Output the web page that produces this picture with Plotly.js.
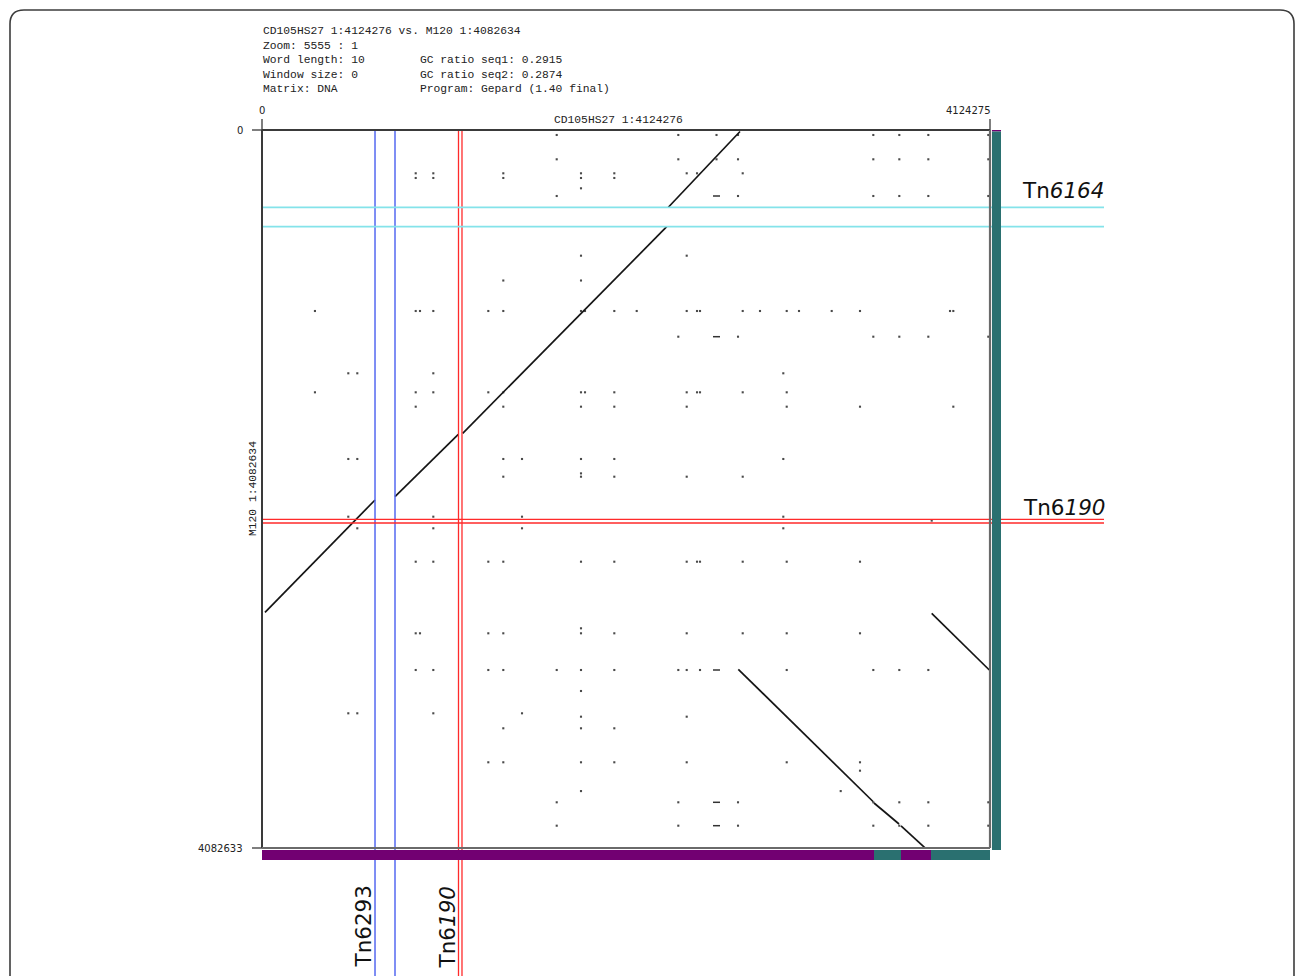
<!DOCTYPE html>
<html>
<head>
<meta charset="utf-8">
<script src="https://cdn.plot.ly/plotly-3.0.1.min.js"></script>
<style>
html,body{margin:0;padding:0;background:#fff;}
#chart{width:1296px;height:976px;}
</style>
</head>
<body>
<div id="chart"></div>
<script>
// ---------------- DATA ----------------
const seqXTitle = 'CD105HS27 1:4124276';
const seqYTitle = 'M120 1:4082634';
const xLen = 4124275;
const yLen = 4082633;
const xTickText = ['0', '4124275'];
const yTickText = ['0', '4082633'];

const headerLeft = ['CD105HS27 1:4124276 vs. M120 1:4082634', 'Zoom: 5555 : 1', 'Word length: 10', 'Window size: 0', 'Matrix: DNA'];
const headerRight = ['', '', 'GC ratio seq1: 0.2915', 'GC ratio seq2: 0.2874', 'Program: Gepard (1.40 final)'];

// long match segments (bp)
const segX0 = [17000, 753500, 1137000, 2302000, 3794000, 2698400, 3467200, 3620100];
const segY0 = [2742400, 2085100, 1724600, 439500, 2748100, 3066500, 3826700, 3957500];
const segX1 = [640200, 1112100, 2292800, 2708000, 4120400, 3461500, 3608800, 3756100];
const segY1 = [2103900, 1730300, 549800, 8500, 3070500, 3818200, 3946100, 4082000];

// short repeat hits, grouped by row (bp)
const dotRowY = [28400, 166600, 246200, 272900, 331500, 375300, 714700, 855800, 1029200, 1175300,
  1383400, 1491500, 1573300, 1870700, 1952500, 1971400, 2198800, 2221000, 2264800, 2454700,
  2833400, 2861800, 3070500, 3189900, 3316700, 3336000, 3402000, 3595300, 3643000, 3759000,
  3822800, 3955800];
const dotRowX = [
  [1669600, 2358500, 2574900, 2696700, 3463200, 3610500, 3774900, 4114700],
  [1669600, 2358500, 2574900, 2696700, 3463200, 3610500, 3774900, 4114700],
  [870800, 970500, 1367000, 1807200, 1995900, 2406000, 2464400, 2723300],
  [870800, 970500, 1367000, 1807200, 1995900],
  [1807200],
  [1669600, 2696700, 3463200, 3610500, 3774900, 4114700],
  [1807200, 2406000],
  [1367000, 1807200],
  [300000, 870800, 895100, 970500, 1282100, 1367000, 1807200, 1829900, 1995900, 2122800, 2406000, 2464400, 2481400, 2723300, 2821300, 2972600, 3042200, 3227500, 3387800, 3897700, 3916500],
  [2358500, 2696700, 3463200, 3610500, 3774900, 4114700],
  [488900, 539900, 970500, 2953300],
  [300000, 870800, 970500, 1282100, 1367000, 1807200, 1829900, 1995900, 2406000, 2464400, 2481400, 2723300, 2972600],
  [870800, 1367000, 1807200, 1995900, 2406000, 2972600, 3387800, 3916500],
  [488900, 539900, 1367000, 1473000, 1807200, 1995900, 2953300],
  [1807200],
  [1367000, 1807200, 1995900, 2406000, 2723300],
  [488900, 970500, 1473000, 2953300],
  [3794000],
  [539900, 970500, 1473000, 2953300],
  [870800, 970500, 1282100, 1367000, 1807200, 1995900, 2406000, 2464400, 2481400, 2723300, 2972600, 3387800],
  [1807200],
  [870800, 895100, 1282100, 1367000, 1807200, 1995900, 2406000, 2723300, 2972600, 3387800],
  [870800, 970500, 1282100, 1367000, 1669600, 1807200, 1995900, 2358500, 2406000, 2481400, 2972600, 3463200, 3610500, 3774900],
  [1807200],
  [488900, 539900, 970500, 1473000],
  [1807200, 2406000],
  [1367000, 1807200, 1995900],
  [1282100, 1367000, 1807200, 1995900, 2406000, 2972600, 3387800],
  [3387800],
  [1807200, 3278500],
  [1669600, 2358500, 2696700, 3463200, 3610500, 3774900, 4114700],
  [1669600, 2358500, 2696700, 3463200, 3610500, 3774900, 4114700]
];
const dashX = [2574900, 2574900, 2574900, 2574900, 2574900];
const dashY = [375300, 1175300, 3070500, 3822800, 3955800];

// transposon boundaries (bp)
const tn6293X = [640200, 753500];
const tn6190X = [1113200, 1133000];
const tn6164Y = [439500, 549800];
const tn6190Y = [2214300, 2234600];

// orientation bars
const bottomBarBreaks = [0, 3467200, 3620100, 3790100, 4124275];
const bottomBarColors = ['#720072', '#2a7070', '#720072', '#2a7070'];
const rightBarBreaks = [0, 8500, 4082633];
const rightBarColors = ['#720072', '#2a7070'];

// ---------------- LAYOUT GEOMETRY ----------------
const W = 1296, H = 976, FL = 262, FR = 990, FT = 130, FB = 848;
const SX = xLen / (FR - FL), SY = yLen / (FB - FT);
const dx = p => p * SX, dy = p => p * SY;
const px = p => p / W, py = p => 1 - p / H;

// ---------------- TRACES ----------------
const lx = [], ly = [];
for (let i = 0; i < segX0.length; i++) {
  lx.push(segX0[i], segX1[i], null);
  ly.push(segY0[i], segY1[i], null);
}
const dX = [], dY = [];
dotRowY.forEach((y, i) => dotRowX[i].forEach(x => { dX.push(x); dY.push(y); }));

const traces = [
  {x: dX, y: dY, type: 'scatter', mode: 'markers', hoverinfo: 'skip',
   marker: {symbol: 'square', size: 2.1, color: '#4a4a4a', line: {width: 0}}},
  {x: dashX, y: dashY, type: 'scatter', mode: 'markers', hoverinfo: 'skip',
   marker: {symbol: 'line-ew', size: 5, line: {width: 1.5, color: '#333'}}},
  {x: lx, y: ly, type: 'scatter', mode: 'lines', hoverinfo: 'skip',
   line: {color: '#151515', width: 1.7}}
];

// ---------------- SHAPES ----------------
const shapes = [];
const L = (x0, y0, x1, y1, color, width) => shapes.push({type: 'line', xref: 'x', yref: 'y', x0, y0, x1, y1, line: {color, width}});
// transposon markers
tn6293X.forEach(v => L(v, 0, v, dy(H - FT), '#5468f0', 1.5));
tn6190X.forEach(v => L(v, 0, v, dy(H - FT), '#ff2a2a', 1.3));
tn6164Y.forEach(v => L(0, v, dx(1104 - FL), v, '#84e3ea', 1.8));
tn6190Y.forEach(v => L(0, v, dx(1104 - FL), v, '#ff2a2a', 1.3));
// frame
L(0, 0, xLen, 0, '#3a3a3a', 2);
L(0, 0, 0, yLen, '#3a3a3a', 2);
L(xLen, 0, xLen, yLen, '#6a6a6a', 2.2);
L(0, yLen, xLen, yLen, '#6a6a6a', 2.2);
// ticks
L(0, 0, 0, -dy(11), '#3a3a3a', 1.3);
L(xLen, 0, xLen, -dy(11), '#3a3a3a', 1.3);
L(0, 0, -dx(10), 0, '#3a3a3a', 1.3);
L(0, yLen, -dx(10), yLen, '#3a3a3a', 1.3);
// bars
for (let i = 0; i < bottomBarColors.length; i++) {
  shapes.push({type: 'rect', xref: 'x', yref: 'y', x0: bottomBarBreaks[i], x1: bottomBarBreaks[i + 1],
    y0: yLen + dy(2), y1: yLen + dy(12), fillcolor: bottomBarColors[i], line: {width: 0}});
}
for (let i = 0; i < rightBarColors.length; i++) {
  shapes.push({type: 'rect', xref: 'x', yref: 'y', x0: xLen + dx(2), x1: xLen + dx(11),
    y0: rightBarBreaks[i], y1: rightBarBreaks[i + 1] + (i === rightBarColors.length - 1 ? dy(2) : 0),
    fillcolor: rightBarColors[i], line: {width: 0}});
}
// outer rounded border
const r = 14, bl = 10, bt = 10, br = 1294, bb = 1000;
shapes.push({type: 'path', xref: 'paper', yref: 'paper', layer: 'above',
  path: `M ${px(bl)} ${py(bb)} L ${px(bl)} ${py(bt + r)} Q ${px(bl)} ${py(bt)} ${px(bl + r)} ${py(bt)} ` +
        `L ${px(br - r)} ${py(bt)} Q ${px(br)} ${py(bt)} ${px(br)} ${py(bt + r)} L ${px(br)} ${py(bb)}`,
  line: {color: '#3c3c3c', width: 1.6}, fillcolor: 'rgba(0,0,0,0)'});

// ---------------- ANNOTATIONS ----------------
const mono = {family: 'Liberation Mono, DejaVu Sans Mono, monospace', size: 11.3, color: '#222'};
const sans = {family: 'DejaVu Sans, Verdana, sans-serif', size: 10, color: '#222'};
const big = {family: 'DejaVu Sans, Verdana, sans-serif', size: 21.5, color: '#111'};
const ann = [];
const A = o => ann.push(Object.assign({showarrow: false, xref: 'paper', yref: 'paper'}, o));
const headerY = [31, 45.5, 60, 74.5, 89];
headerLeft.forEach((t, i) => A({text: t, x: px(FL - 1), y: py(headerY[i]), xanchor: 'left', yanchor: 'middle', font: mono}));
headerRight.forEach((t, i) => { if (t) A({text: t, x: px(418), y: py(headerY[i]), xanchor: 'left', yanchor: 'middle', font: mono}); });
A({text: xTickText[0], x: px(FL), y: py(110), xanchor: 'center', yanchor: 'middle', font: sans});
A({text: xTickText[1], x: px(993), y: py(110), xanchor: 'right', yanchor: 'middle', font: sans});
A({text: yTickText[0], x: px(245), y: py(FT), xanchor: 'right', yanchor: 'middle', font: sans});
A({text: yTickText[1], x: px(245), y: py(FB), xanchor: 'right', yanchor: 'middle', font: sans});
A({text: seqXTitle, x: px(618), y: py(120), xanchor: 'center', yanchor: 'middle', font: mono});
A({text: seqYTitle, x: px(253), y: py(489), xanchor: 'center', yanchor: 'middle', textangle: -90, font: mono});
A({text: 'Tn<i>6164</i>', x: px(1063), y: py(190), xanchor: 'center', yanchor: 'middle', font: big});
A({text: 'Tn6<i>190</i>', x: px(1064), y: py(507), xanchor: 'center', yanchor: 'middle', font: big});
A({text: 'Tn6293', x: px(362.5), y: py(927), xanchor: 'center', yanchor: 'middle', textangle: -90, font: big});
A({text: 'Tn6<i>190</i>', x: px(446.5), y: py(927), xanchor: 'center', yanchor: 'middle', textangle: -90, font: big});

const layout = {
  width: W, height: H,
  margin: {l: 0, r: 0, t: 0, b: 0, pad: 0},
  paper_bgcolor: '#fff', plot_bgcolor: '#fff',
  showlegend: false,
  xaxis: {range: [-dx(FL), dx(W - FL)], visible: false, fixedrange: true},
  yaxis: {range: [dy(H - FT), -dy(FT)], visible: false, fixedrange: true},
  shapes: shapes,
  annotations: ann
};

Plotly.newPlot('chart', traces, layout, {displayModeBar: false, staticPlot: true});
</script>
</body>
</html>
